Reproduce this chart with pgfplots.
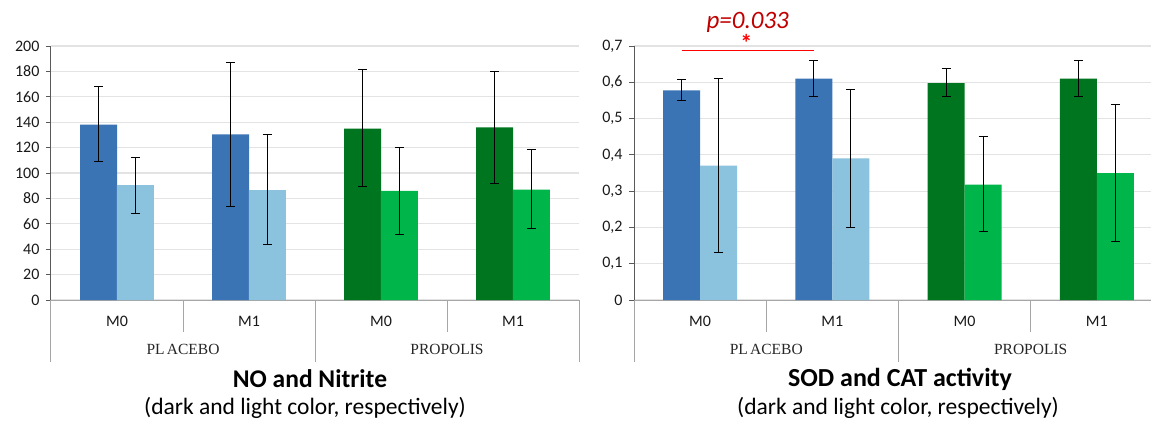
\documentclass[border=0pt]{standalone}
\usepackage{fontspec}
\setmainfont{Carlito}
\newfontfamily\catserif{Liberation Serif}
\usepackage{pgfplots}
\pgfplotsset{compat=1.18}

\definecolor{dblue}{RGB}{58,116,181}
\definecolor{lblue}{RGB}{139,194,221}
\definecolor{dgreen}{RGB}{0,117,32}
\definecolor{lgreen}{RGB}{0,182,74}
\definecolor{pred}{RGB}{192,0,0}
\definecolor{sepgray}{RGB}{166,166,166}

% bars are placed at their own centres: dark = category - 0.14, light = category + 0.14
\pgfplotsset{
  panel/.style={
    scale only axis, anchor=south west, height=254pt,
    xmin=-0.5, ymin=0, clip=false,
    axis lines*=left,
    x axis line style={sepgray, line width=1pt},
    y axis line style={black!65, line width=1pt},
    ymajorgrids, grid style={black!11, line width=1.2pt},
    xtick={0,1,2,3}, xticklabels={M0,M1,M0,M1},
    xtick style={draw=none},
    ytick style={black!65, line width=1pt},
    tick align=outside, major tick length=5pt,
    tick label style={font=\fontsize{16}{19}\selectfont, text=black!90},
    xticklabel style={anchor=center, yshift=-16pt},
    yticklabel style={xshift=-3pt},
    /pgf/number format/assume math mode=true,
  },
  bars/.style={ybar, bar width=37pt, bar shift=0pt, draw=none,
    error bars/y dir=both, error bars/y explicit,
    error bars/error bar style={black, line width=0.9pt},
    error bars/error mark options={black, line width=0.9pt, mark size=4.5pt, rotate=90}},
}
\tikzset{
  catsep/.style={sepgray, line width=1pt},
  grouplab/.style={font=\catserif\fontsize{15.5}{18}\selectfont, text=black!85},
}

\begin{document}
\begin{tikzpicture}
\useasboundingbox (0,0) rectangle (1151pt,421pt);

% ---- NO and Nitrite
\begin{axis}[panel, at={(51pt,121pt)}, width=528pt, xmax=3.5,
  ymax=200, ytick={0,20,...,200}]
\addplot[bars, fill=dblue] table[x=x, y=y, y error plus=ep, y error minus=em, row sep=\\] {
x y ep em \\ -0.14 138 30 29 \\ 0.86 130.5 56.5 56.5 \\};
\addplot[bars, fill=lblue] table[x=x, y=y, y error plus=ep, y error minus=em, row sep=\\] {
x y ep em \\ 0.14 90.5 21.5 22 \\ 1.14 86.5 44 43 \\};
\addplot[bars, fill=dgreen] table[x=x, y=y, y error plus=ep, y error minus=em, row sep=\\] {
x y ep em \\ 1.86 135 46.5 45.5 \\ 2.86 136 44 44 \\};
\addplot[bars, fill=lgreen] table[x=x, y=y, y error plus=ep, y error minus=em, row sep=\\] {
x y ep em \\ 2.14 86 34 34 \\ 3.14 87 31.5 31 \\};
\draw[catsep] (axis cs:0.5,0) -- ++(0pt,-32pt);
\draw[catsep] (axis cs:2.5,0) -- ++(0pt,-32pt);
\draw[catsep] (axis cs:-0.5,0) -- ++(0pt,-62pt);
\draw[catsep] (axis cs:1.5,0) -- ++(0pt,-62pt);
\draw[catsep] (axis cs:3.5,0) -- ++(0pt,-62pt);
\node[grouplab] at ([yshift=-49pt]axis cs:0.5,0) {PL\hspace{0.15em}ACEBO};
\node[grouplab] at ([yshift=-49pt]axis cs:2.5,0) {PROPOLIS};
\end{axis}

% ---- SOD and CAT activity
\begin{axis}[panel, at={(634pt,121pt)}, width=517pt, xmax=3.41,
  ymax=0.7, ytick={0,0.1,...,0.7},
  yticklabel style={/pgf/number format/.cd, use comma, fixed, precision=1}]
\addplot[bars, fill=dblue] table[x=x, y=y, y error plus=ep, y error minus=em, row sep=\\] {
x y ep em \\ -0.14 0.578 0.031 0.027 \\ 0.86 0.61 0.05 0.05 \\};
\addplot[bars, fill=lblue] table[x=x, y=y, y error plus=ep, y error minus=em, row sep=\\] {
x y ep em \\ 0.14 0.37 0.24 0.24 \\ 1.14 0.39 0.19 0.19 \\};
\addplot[bars, fill=dgreen] table[x=x, y=y, y error plus=ep, y error minus=em, row sep=\\] {
x y ep em \\ 1.86 0.598 0.04 0.038 \\ 2.86 0.61 0.05 0.05 \\};
\addplot[bars, fill=lgreen] table[x=x, y=y, y error plus=ep, y error minus=em, row sep=\\] {
x y ep em \\ 2.14 0.318 0.132 0.128 \\ 3.14 0.35 0.19 0.19 \\};
\draw[catsep] (axis cs:0.5,0) -- ++(0pt,-32pt);
\draw[catsep] (axis cs:2.5,0) -- ++(0pt,-32pt);
\draw[catsep] (axis cs:-0.5,0) -- ++(0pt,-62pt);
\draw[catsep] (axis cs:1.5,0) -- ++(0pt,-62pt);
\node[grouplab] at ([yshift=-49pt]axis cs:0.5,0) {PL\hspace{0.15em}ACEBO};
\node[grouplab] at ([yshift=-49pt]axis cs:2.5,0) {PROPOLIS};
% significance bracket
\draw[red, line width=1pt] (axis cs:-0.14,0.687) -- (axis cs:0.86,0.687);
\node[text=red, inner sep=0pt, anchor=north, font=\bfseries\fontsize{24}{26}\selectfont] at (axis cs:0.35,0.733) {*};
\node[text=pred, inner sep=0pt, font=\itshape\fontsize{25}{27}\selectfont] at (axis cs:0.36,0.764) {p=0.033};
\end{axis}

% titles
\node[font=\bfseries\fontsize{25.5}{28}\selectfont] at (310pt,42pt) {NO and Nitrite};
\node[font=\fontsize{23.5}{26}\selectfont] at (305pt,13pt) {(dark and light color, respectively)};
\node[font=\bfseries\fontsize{26}{28}\selectfont] at (900pt,42pt) {SOD and CAT activity};
\node[font=\fontsize{23.5}{26}\selectfont] at (898pt,13pt) {(dark and light color, respectively)};
\end{tikzpicture}
\end{document}
